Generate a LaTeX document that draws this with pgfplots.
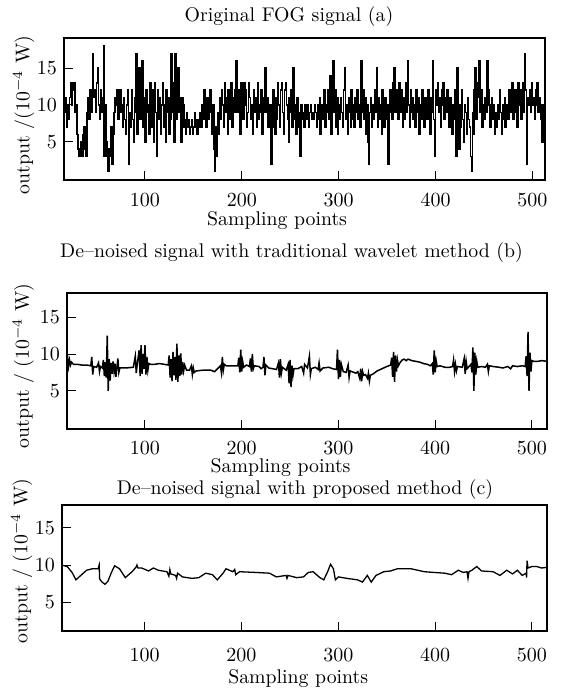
\documentclass[border=0pt]{standalone}
\usepackage{pgfplots}
\pgfplotsset{compat=1.18}

\pgfplotsset{
  fogpanel/.style={
    scale only axis, anchor=north west,
    axis line style={line width=1.1pt},
    tick style={line width=0.5pt, black},
    major tick length=4.5pt, tick align=inside,
    xtick pos=bottom, ytick pos=left,
    xtick={100,200,300,400,500}, ytick={5,10,15},
    ylabel style={rotate=0, anchor=center},
    clip=true,
  },
}

\begin{document}
\begin{tikzpicture}[font=\fontsize{9.9}{11.9}\selectfont]
\useasboundingbox (0,0) rectangle (280.5pt,-345pt);

% (a) original signal
\begin{axis}[fogpanel, at={(32pt,-19pt)}, width=240.5pt, height=71pt,
  xmin=16.4, xmax=513, ymin=-0.2, ymax=19.1,
  xticklabel style={yshift=-3.5pt},
  xlabel={Sampling points},
  xlabel style={at={(axis description cs:0.443,-0.285)}, anchor=center},
  ylabel={output /(10$^{-4}$ W)},
  ylabel style={at={(axis description cs:-0.084,0.458)}},
]
\addplot[const plot, black, line width=0.8pt] table[row sep=\\, x expr=\coordindex+17, y=y] {
y\\
9\\11\\7\\10\\8\\11\\13\\10\\13\\12\\13\\9\\10\\6\\4\\3\\4\\5\\3\\6\\
7\\4\\3\\9\\11\\8\\12\\10\\9\\17\\11\\12\\9\\13\\15\\10\\8\\12\\9\\11\\
18\\3\\10\\5\\3\\1\\4\\3\\7\\2\\6\\9\\11\\10\\12\\8\\11\\12\\9\\10\\
7\\11\\8\\6\\10\\12\\2\\9\\7\\12\\8\\5\\11\\9\\17\\6\\12\\15\\8\\10\\
16\\7\\11\\5\\12\\9\\10\\6\\13\\11\\7\\12\\5\\13\\9\\3\\12\\8\\11\\6\\
10\\13\\7\\10\\5\\12\\9\\11\\6\\8\\17\\9\\13\\5\\17\\8\\12\\15\\9\\11\\
5\\11\\7\\10\\8\\6\\9\\7\\8\\6\\7\\8\\6\\7\\9\\7\\8\\6\\8\\7\\
9\\7\\10\\8\\12\\9\\7\\11\\8\\10\\12\\9\\6\\10\\4\\1\\7\\3\\9\\6\\
11\\8\\12\\10\\7\\13\\9\\11\\6\\12\\10\\8\\13\\7\\11\\9\\12\\16\\9\\12\\
10\\6\\13\\11\\8\\13\\10\\12\\7\\9\\13\\11\\8\\10\\6\\12\\9\\11\\7\\13\\
8\\10\\9\\12\\6\\11\\9\\15\\9\\11\\7\\8\\10\\2\\7\\12\\9\\6\\11\\8\\
13\\10\\7\\12\\13\\9\\6\\12\\13\\10\\8\\5\\11\\9\\12\\7\\15\\8\\10\\6\\
11\\9\\7\\3\\10\\8\\9\\7\\10\\9\\8\\10\\7\\9\\10\\8\\9\\8\\10\\9\\
7\\10\\8\\11\\6\\9\\10\\8\\12\\7\\10\\9\\12\\8\\14\\6\\11\\16\\9\\12\\
7\\11\\6\\10\\8\\11\\9\\7\\12\\15\\8\\10\\6\\11\\9\\7\\12\\8\\10\\7\\
11\\9\\12\\8\\10\\7\\16\\9\\12\\8\\11\\6\\10\\5\\2\\9\\11\\7\\10\\8\\
12\\9\\15\\7\\11\\8\\10\\6\\12\\9\\7\\11\\8\\10\\2\\9\\12\\10\\8\\13\\
15\\9\\12\\11\\8\\13\\10\\9\\12\\7\\11\\8\\13\\9\\16\\10\\7\\12\\9\\11\\
8\\10\\7\\12\\9\\11\\6\\10\\8\\12\\9\\7\\11\\10\\8\\12\\9\\6\\11\\9\\
16\\8\\3\\12\\10\\13\\9\\11\\7\\12\\10\\13\\8\\11\\9\\12\\10\\7\\11\\9\\
6\\10\\8\\12\\3\\15\\9\\4\\10\\7\\12\\8\\5\\10\\9\\6\\11\\8\\7\\3\\
1\\9\\6\\12\\15\\8\\11\\13\\16\\9\\12\\7\\10\\8\\11\\9\\16\\12\\10\\7\\
9\\11\\8\\10\\6\\9\\7\\10\\8\\12\\9\\6\\10\\8\\11\\7\\9\\10\\8\\12\\
9\\11\\13\\8\\10\\12\\9\\7\\13\\10\\12\\8\\11\\13\\9\\17\\12\\2\\11\\10\\
12\\9\\13\\10\\11\\8\\12\\10\\13\\9\\11\\10\\8\\5\\10\\9\\
};
\end{axis}
\node at (144.5pt,-8.5pt) {Original FOG signal (a)};

% (b) traditional wavelet de-noising
\begin{axis}[fogpanel, at={(33.5pt,-146.5pt)}, width=240pt, height=68pt,
  xmin=19.4, xmax=515.6, ymin=-0.2, ymax=18.3,
  xticklabel style={yshift=-3pt},
  xlabel={Sampling points},
  xlabel style={at={(axis description cs:0.445,-0.28)}, anchor=center},
  ylabel={output / (10$^{-4}$ W)},
  ylabel style={at={(axis description cs:-0.091,0.463)}},
]
\addplot[black, line width=0.75pt] coordinates {
(17,8.9)(19,8.7)(20,9.6)(21,8.3)(22,9.2)(23,8.5)(24,8.9)(26,8.6)(30,8.6)(35,8.5)
(40,8.5)(44,8.4)(45,9.6)(46,7.2)(47,8.3)(50,8.2)(52,8.8)(53,7.6)(54,8.3)(56,8.1)
(57,9.2)(58,7.0)(59,8.9)(60,6.8)(61,12.5)(62,5.0)(63,9.3)(64,6.4)(65,8.8)(66,7.3)
(67,9.0)(68,7.6)(69,8.7)(70,6.9)(71,8.2)(72,9.4)(73,7.5)(74,8.1)(80,8.1)(88,8.2)
(90,9.7)(91,7.4)(92,8.6)(94,10.5)(95,7.0)(96,11.2)(97,7.3)(98,10.0)(99,8.0)(100,11.2)
(101,7.2)(102,9.6)(103,7.8)(104,8.7)(106,8.6)(110,8.6)(115,8.7)(120,8.6)(124,8.5)(125,9.8)
(126,6.8)(127,9.3)(128,6.3)(129,10.3)(130,7.1)(131,9.6)(132,6.5)(133,11.4)(134,6.2)(135,9.8)
(136,7.0)(137,10.1)(138,7.2)(139,8.9)(140,7.7)(141,8.5)(143,7.8)(146,7.8)(148,8.4)(149,7.2)
(150,8.1)(151,7.5)(153,7.7)(160,7.8)(168,7.8)(172,7.6)(175,8.0)(178,8.4)(179,7.5)(180,9.6)
(181,7.8)(182,8.6)(184,8.4)(190,8.4)(196,8.4)(197,9.5)(198,7.5)(199,10.6)(200,7.6)(201,9.0)
(202,8.2)(205,8.5)(208,8.3)(209,9.4)(210,7.6)(211,10.0)(212,8.0)(213,8.4)(218,8.3)(220,8.0)
(222,8.2)(223,9.6)(224,7.1)(225,8.5)(228,8.1)(232,8.0)(236,7.9)(238,8.8)(239,6.8)(240,9.3)
(241,7.4)(242,8.2)(246,7.8)(248,8.6)(249,6.0)(250,9.2)(251,5.5)(252,8.4)(253,7.1)(254,8.0)
(258,8.0)(262,8.3)(264,7.4)(265,8.6)(268,8.1)(270,9.7)(271,7.2)(272,8.0)(276,8.2)(279,7.9)
(280,8.8)(281,7.7)(284,8.1)(290,8.2)(294,8.0)(298,7.9)(299,10.6)(300,6.6)(301,9.2)(302,6.9)
(303,8.6)(305,7.6)(308,7.5)(310,8.5)(311,6.8)(312,7.7)(316,7.5)(318,7.4)(320,7.6)(322,6.7)
(323,8.0)(324,6.3)(325,7.6)(326,7.1)(328,7.2)(330,6.7)(331,7.4)(332,6.3)(333,7.1)(336,7.3)
(340,7.7)(345,8.0)(350,8.3)(354,8.5)(355,9.5)(356,6.9)(357,10.3)(358,6.2)(359,9.8)(360,7.6)
(361,9.2)(362,8.4)(364,8.9)(366,9.2)(368,9.3)(370,9.1)(372,9.3)(376,9.1)(380,9.0)(384,8.9)
(388,8.7)(392,8.6)(395,8.4)(397,8.7)(398,7.2)(399,10.5)(400,7.5)(401,9.1)(402,8.3)(405,8.4)
(410,8.2)(415,8.2)(418,8.3)(419,9.2)(420,7.6)(421,8.6)(422,7.7)(423,8.3)(428,8.2)(430,9.4)
(431,7.3)(432,9.0)(433,8.0)(435,8.3)(437,8.6)(438,7.5)(439,10.9)(440,5.0)(441,10.2)(442,7.2)
(443,9.0)(444,8.2)(448,8.3)(452,8.2)(454,8.6)(455,7.6)(456,8.4)(460,8.3)(466,8.2)(470,8.1)
(475,8.3)(478,8.0)(480,8.4)(485,8.3)(490,8.4)(493,8.3)(494,9.7)(495,7.0)(496,13.0)(497,5.0)
(498,10.2)(499,7.6)(500,9.1)(502,9.0)(506,9.0)(510,9.1)(516,9.0)
};
\end{axis}
\node at (145.75pt,-126.5pt) {De--noised signal with traditional wavelet method (b)};

% (c) proposed method
\begin{axis}[fogpanel, at={(31pt,-252.5pt)}, width=242.5pt, height=63pt,
  xmin=14.6, xmax=515.6, ymin=1.1, ymax=18.1,
  xticklabel style={yshift=-5.5pt},
  xlabel={Sampling points},
  xlabel style={at={(axis description cs:0.487,-0.375)}, anchor=center},
  ylabel={output / (10$^{-4}$ W)},
  ylabel style={at={(axis description cs:-0.083,0.556)}},
]
\addplot[black, line width=0.65pt] coordinates {
(14,10.0)(20,9.8)(25,9.0)(29,8.0)(34,8.6)(40,9.3)(46,9.5)(52,9.5)(53,10.0)(53.5,8.1)
(56,7.7)(59,7.4)(62,7.8)(66,9.1)(69,9.9)(74,9.5)(80,8.3)(87,9.1)(91,9.7)(92,10.0)
(93,9.6)(97,9.6)(104,9.2)(109,9.6)(114,9.3)(123,9.1)(125,8.5)(126,9.4)(127,8.8)(132,8.6)
(133,8.2)(134,8.9)(139,8.4)(149,8.2)(156,8.3)(163,8.9)(170,8.7)(175,8.0)(181,8.9)(184,9.5)
(191,9.1)(193,9.4)(194,8.7)(198,9.1)(215,9.0)(229,8.9)(236,8.4)(246,8.6)(247,8.2)(248,8.6)
(257,8.3)(264,8.4)(269,9.0)(274,9.1)(281,8.3)(285,8.0)(289,9.1)(292,10.1)(295,9.5)(297,8.0)
(300,8.4)(309,8.2)(320,8.0)(325,7.7)(330,8.6)(334,7.7)(339,8.6)(347,9.1)(354,9.2)(361,9.5)
(375,9.5)(382,9.3)(389,9.1)(399,9.0)(410,8.9)(417,8.7)(424,9.3)(429,9.0)(433,9.1)(434,8.2)
(435,9.1)(438,9.3)(443,9.8)(448,9.2)(460,9.1)(467,8.6)(474,9.3)(480,8.8)(485,9.3)(490,8.6)
(494,8.9)(494.5,8.3)(495,10.6)(496,9.6)(500,9.8)(505,9.8)(510,9.6)(516,9.7)
};
\end{axis}
\node at (152.5pt,-245pt) {De--noised signal with proposed method (c)};
\end{tikzpicture}
\end{document}
